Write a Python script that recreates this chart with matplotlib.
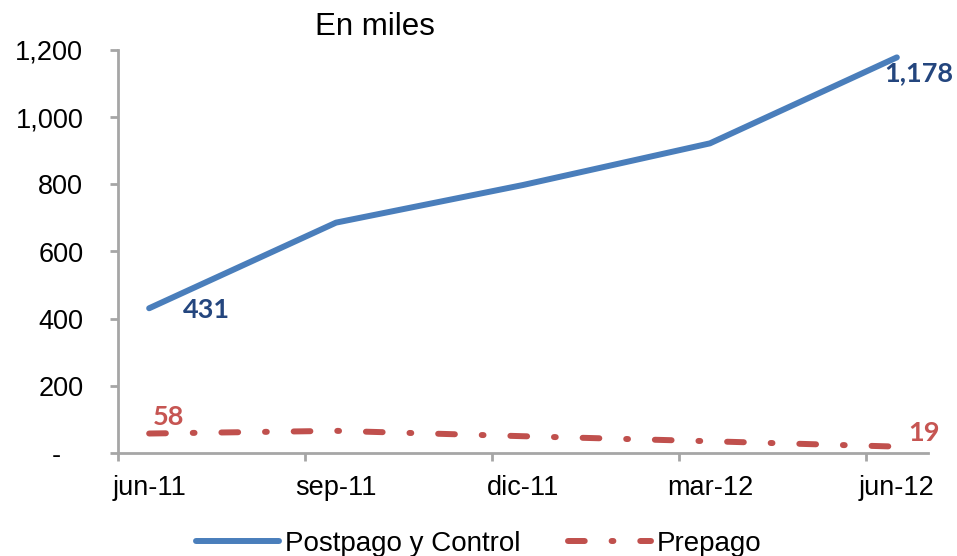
import matplotlib
matplotlib.use("Agg")
import matplotlib.pyplot as plt
from matplotlib.ticker import FixedLocator

plt.rcParams['font.family'] = ['Liberation Sans', 'DejaVu Sans']

# Data (thousands)
periods = ["jun-11", "sep-11", "dic-11", "mar-12", "jun-12"]
postpago = [431, 686, 798, 922, 1178]
prepago = [58, 66, 50, 35, 19]
y_ticks = [0, 200, 400, 600, 800, 1000, 1200]
y_labels = ["-   ", "200", "400", "600", "800", "1,000", "1,200"]

BLUE = "#4A7EBB"
BLUE_LBL = "#24467E"
RED = "#C0504D"
RED_LBL = "#C65552"
AXIS = "#A6A6A6"

W, H = 957, 556
fig = plt.figure(figsize=(W / 100, H / 100), dpi=100)
ax = fig.add_axes([118 / W, 103 / H, (928 - 118) / W, (453 - 50) / H])

# monthly date axis: each quarter spans 3 months, points sit mid-month
x = [3 * i + 0.5 for i in range(len(periods))]

lw = 4.3
ax.plot(x, postpago, color=BLUE, lw=lw, solid_capstyle='round',
        solid_joinstyle='round', label="Postpago y Control")
ax.plot(x, prepago, color=RED, lw=lw, dash_capstyle='round',
        dashes=(2.8, 4.5, 0.3, 4.5), label="Prepago")

ax.set_xlim(0, 13)
ax.set_ylim(0, 1200)

for s in ("top", "right"):
    ax.spines[s].set_visible(False)
for s in ("left", "bottom"):
    ax.spines[s].set_color(AXIS)
    ax.spines[s].set_linewidth(2)

ax.set_yticks(y_ticks)
ax.set_yticklabels(y_labels, fontsize=19.5)
ax.tick_params(axis='y', length=6, width=2, color=AXIS, pad=19)

ax.set_xticks(x)
ax.set_xticklabels(periods, fontsize=19.5)
ax.tick_params(axis='x', which='major', length=0, pad=16)
ax.xaxis.set_minor_locator(FixedLocator([0, 3, 6, 9, 12]))
ax.tick_params(axis='x', which='minor', length=6, width=2, color=AXIS)

lbl_font = dict(family=['Lato', 'DejaVu Sans'], fontweight='bold', fontsize=19.5)
ax.annotate(f"{postpago[0]:,}", (x[0], postpago[0]), xytext=(41, -1),
            textcoords='offset points', ha='center', va='center',
            color=BLUE_LBL, **lbl_font)
ax.annotate(f"{postpago[-1]:,}", (x[-1], postpago[-1]), xytext=(15.5, -11.5),
            textcoords='offset points', ha='center', va='center',
            color=BLUE_LBL, **lbl_font)
ax.annotate(f"{prepago[0]:,}", (x[0], prepago[0]), xytext=(13.7, 12.2),
            textcoords='offset points', ha='center', va='center',
            color=RED_LBL, **lbl_font)
ax.annotate(f"{prepago[-1]:,}", (x[-1], prepago[-1]), xytext=(19.5, 10),
            textcoords='offset points', ha='center', va='center',
            color=RED_LBL, **lbl_font)

fig.text(375 / W, 1 - 35 / H, "En miles", ha='center', va='baseline',
         fontsize=22.5)

fig.legend(loc='center', bbox_to_anchor=(0.5, 12 / H), ncol=2,
           frameon=False, fontsize=20, handlelength=3.0,
           handletextpad=0.2, columnspacing=1.7)

fig.savefig("out.png", dpi=100)
